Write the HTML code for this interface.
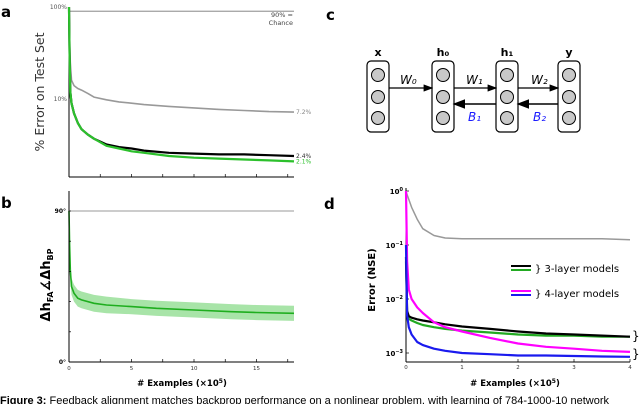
<!DOCTYPE html>
<html><head><meta charset="utf-8">
<style>
html,body{margin:0;padding:0;background:#fff;width:640px;height:404px;overflow:hidden}
svg{display:block;font-family:"DejaVu Sans","Liberation Sans",sans-serif}
</style></head>
<body>
<svg id="fig" width="640" height="404" viewBox="0 0 640 404" xmlns="http://www.w3.org/2000/svg">
<g font-weight="bold" font-size="15">
<text x="1" y="17">a</text>
<text x="1" y="208">b</text>
<text x="326" y="20">c</text>
<text x="324" y="209">d</text>
</g>
<g id="pa"></g>
<g id="pb"></g>
<g id="pc"></g>
<g id="pd"></g>
<text x="0" y="404" font-size="11" font-family="Liberation Sans,sans-serif"><tspan font-weight="bold">Figure 3:</tspan> Feedback alignment matches backprop performance on a nonlinear problem, with learning of 784-1000-10 network</text>
</svg>
<script>
// ---- Panel a data ----
const aX=[0,0.05,0.1,0.2,0.4,0.7,1,1.5,2,3,4,5,6,8,10,12,14,16,18];
const aGray=[100,40,25,16,14,13,12.5,11.5,10.5,9.8,9.3,9,8.7,8.3,8,7.7,7.5,7.3,7.2];
const aBlack=[100,30,12,9,7,5.5,4.7,4.1,3.7,3.2,3.0,2.9,2.75,2.6,2.55,2.5,2.5,2.45,2.4];
const aGreen=[100,30,12,9,7,5.5,4.7,4.1,3.7,3.1,2.9,2.7,2.6,2.4,2.3,2.25,2.2,2.15,2.1];
const aYTicks=["100%","10%"];
// ---- Panel b data ----
const bX=[0,0.05,0.1,0.2,0.4,0.7,1,2,3,5,7,10,13,15,18];
const bMean=[90,70,55,45,41,38,37,35,34,33,32,31,30,29.5,29];
const bSpread=[2,4,5,5,5,5,5,5,5,4.5,4.5,4.5,4.5,4.5,4.5];
const bXTicks=[0,5,10,15];
// ---- Panel d data ----
const dX=[0,0.02,0.05,0.1,0.2,0.3,0.5,0.7,1,1.5,2,2.5,3,3.5,4];
const dGray=[1,0.85,0.7,0.5,0.3,0.2,0.15,0.135,0.13,0.13,0.13,0.13,0.13,0.13,0.125];
const dBlack=[0.06,0.006,0.0048,0.0045,0.0042,0.004,0.0037,0.0034,0.0031,0.0028,0.0025,0.0023,0.0022,0.0021,0.002];
const dGreen=[0.05,0.005,0.0043,0.004,0.0036,0.0033,0.003,0.0028,0.0026,0.0024,0.0022,0.0021,0.0021,0.002,0.002];
const dMagenta=[1,0.05,0.015,0.01,0.007,0.0055,0.0037,0.003,0.0025,0.0019,0.0015,0.0013,0.0012,0.0011,0.00105];
const dBlue=[0.1,0.005,0.003,0.0022,0.0016,0.0014,0.0012,0.0011,0.001,0.00095,0.0009,0.0009,0.00088,0.00086,0.00085];
const dXTicks=[0,1,2,3,4];
const dYExp=[0,-1,-2,-3];

const NS="http://www.w3.org/2000/svg";
function mk(parent,tag,attrs,text){const e=document.createElementNS(NS,tag);for(const k in attrs)e.setAttribute(k,attrs[k]);if(text!==undefined)e.textContent=text;parent.appendChild(e);return e;}
function pts(xs,ys,fx,fy){return xs.map((x,i)=>fx(x).toFixed(1)+","+fy(ys[i]).toFixed(1)).join(" ");}

// ===== Panel a =====
(function(){
const g=document.getElementById('pa');
const x0=69,x1=294,top=7,bot=177;
const fx=v=>x0+(v/18)*(x1-x0);
const fy=v=>top+92*(2-Math.log10(v));
let e=mk(g,'line',{x1:x0,y1:top,x2:x0,y2:bot,stroke:'#000','stroke-width':1});

e=mk(g,'line',{x1:x0,y1:bot,x2:x1,y2:bot,stroke:'#000','stroke-width':1});

for(let t=0;t<=17.5;t+=2.5){e=mk(g,'line',{x1:fx(t),y1:bot,x2:fx(t),y2:bot-3,stroke:'#000','stroke-width':0.7});
}
[100,10].forEach((v,i)=>{e=mk(g,'text',{x:x0-2,y:fy(v)+2,'font-size':6,'text-anchor':'end',fill:'#555'},aYTicks[i]);
});
e=mk(g,'line',{x1:x0,y1:fy(90),x2:x1,y2:fy(90),stroke:'#777','stroke-width':0.8});

e=mk(g,'text',{x:x1-1,y:17,'font-size':6.5,'text-anchor':'end',fill:'#444'},'90% =');

e=mk(g,'text',{x:x1-1,y:25,'font-size':6.5,'text-anchor':'end',fill:'#444'},'Chance');

e=mk(g,'text',{transform:'translate(44,92) rotate(-90)','font-size':12.5,'text-anchor':'middle',fill:'#333'},'% Error on Test Set');

const ser=[[aGray,'#999','7.2%','a-series-gray'],[aBlack,'#000','2.4%','a-series-black'],[aGreen,'#2cc02c','2.1%','a-series-green']];
ser.forEach(s=>{e=mk(g,'polyline',{points:pts(aX,s[0],fx,fy),fill:'none',stroke:s[1],'stroke-width':s[1]=='#999'?1.6:2.2,'stroke-linejoin':'round'});

e=mk(g,'text',{x:x1+2,y:fy(s[0][s[0].length-1])+2,'font-size':6,fill:s[1]=='#2cc02c'?'#2cc02c':(s[1]=='#999'?'#888':'#333')},s[2]);
});
})();

// ===== Panel b =====
(function(){
const g=document.getElementById('pb');
const x0=69,x1=294,top=191,bot=362;
const fx=v=>x0+(v/18)*(x1-x0);
const fy=v=>bot-(v/90)*(bot-211);
let e;
const up=bX.map((x,i)=>fx(x).toFixed(1)+","+fy(bMean[i]+bSpread[i]).toFixed(1));
const dn=bX.map((x,i)=>fx(x).toFixed(1)+","+fy(bMean[i]-bSpread[i]).toFixed(1)).reverse();
e=mk(g,'polygon',{points:up.concat(dn).join(" "),fill:'#a8e4a8'});

e=mk(g,'polyline',{points:pts(bX,bMean,fx,fy),fill:'none',stroke:'#1fae1f','stroke-width':1.6});

e=mk(g,'line',{x1:x0,y1:top,x2:x0,y2:bot,stroke:'#000','stroke-width':1});

e=mk(g,'line',{x1:x0,y1:bot,x2:x1,y2:bot,stroke:'#000','stroke-width':1});

e=mk(g,'line',{x1:x0,y1:fy(90),x2:x1,y2:fy(90),stroke:'#777','stroke-width':0.8});

for(let t=0;t<=90;t+=18){e=mk(g,'line',{x1:x0,y1:fy(t),x2:x0+2,y2:fy(t),stroke:'#000','stroke-width':0.7});
}
for(let t=0;t<=17.5;t+=2.5){e=mk(g,'line',{x1:fx(t),y1:bot,x2:fx(t),y2:bot-3,stroke:'#000','stroke-width':0.7});
}
bXTicks.forEach(t=>{e=mk(g,'text',{x:fx(t),y:bot+8,'font-size':5.5,'text-anchor':'middle',fill:'#333'},String(t));
});
e=mk(g,'text',{x:x0-3,y:fy(90)+2,'font-size':6,'text-anchor':'end','font-weight':'bold'},'90°');

e=mk(g,'text',{x:x0-3,y:bot+2,'font-size':6,'text-anchor':'end','font-weight':'bold'},'0°');

const t=mk(g,'text',{transform:'translate(50,285) rotate(-90)','font-size':13,'text-anchor':'middle','font-weight':'bold'});

t.innerHTML='Δh<tspan font-size="8" dy="3">FA</tspan><tspan dy="-3">∡Δh</tspan><tspan font-size="8" dy="3">BP</tspan>';
e=mk(g,'text',{x:182,y:386,'font-size':8.5,'text-anchor':'middle','font-weight':'bold'},'');
e.innerHTML='# Examples (×10<tspan font-size="6" dy="-3">5</tspan><tspan dy="3">)</tspan>';

})();

// ===== Panel c =====
(function(){
const g=document.getElementById('pc');
const cols=[[378,'x'],[443,'h₀'],[507,'h₁'],[569,'y']];
let e;
cols.forEach((c,i)=>{
e=mk(g,'rect',{x:c[0]-11,y:61,width:22,height:71,rx:4,fill:'#fff',stroke:'#000','stroke-width':1.2});

[75,97,118].forEach(cy=>{e=mk(g,'circle',{cx:c[0],cy:cy,r:6.5,fill:'#c8c8c8',stroke:'#000','stroke-width':1});
});
e=mk(g,'text',{x:c[0],y:56,'font-size':11,'font-weight':'bold','text-anchor':'middle'},c[1]);

});
mk(g,'defs',{}).innerHTML='<marker id="ah" markerWidth="8" markerHeight="6" refX="7" refY="3" orient="auto"><path d="M0,0L8,3L0,6z" fill="#000"/></marker>';
const fw=[[389,432,'W₀',400],[454,496,'W₁',466],[518,558,'W₂',531]];
fw.forEach((a,i)=>{e=mk(g,'line',{x1:a[0],y1:88,x2:a[1],y2:88,stroke:'#000','stroke-width':1.2,'marker-end':'url(#ah)'});

e=mk(g,'text',{x:a[3],y:84,'font-size':12,'font-style':'italic'},a[2]);
});
const bw=[[496,454,'B₁',468],[558,518,'B₂',533]];
bw.forEach((a,i)=>{e=mk(g,'line',{x1:a[0],y1:104,x2:a[1],y2:104,stroke:'#000','stroke-width':1.6,'marker-end':'url(#ah)'});

e=mk(g,'text',{x:a[3],y:121,'font-size':12,'font-style':'italic',fill:'#1a1aff'},a[2]);
});
})();

// ===== Panel d =====
(function(){
const g=document.getElementById('pd');
const x0=406,x1=630,top=188,bot=362;
const fx=v=>x0+(v/4)*(x1-x0);
const fy=v=>191-54*Math.log10(v);
let e;
e=mk(g,'line',{x1:x0,y1:top,x2:x0,y2:bot,stroke:'#000','stroke-width':1});

e=mk(g,'line',{x1:x0,y1:bot,x2:x1,y2:bot,stroke:'#000','stroke-width':1});

dXTicks.forEach(t=>{e=mk(g,'line',{x1:fx(t),y1:bot,x2:fx(t),y2:bot-3,stroke:'#000','stroke-width':0.7});

e=mk(g,'text',{x:fx(t),y:bot+7,'font-size':5.5,'text-anchor':'middle',fill:'#333'},String(t));
});
dYExp.forEach(p=>{e=mk(g,'text',{x:x0-3,y:fy(Math.pow(10,p))+3,'font-size':7,'text-anchor':'end','font-weight':'bold'},'');
e.innerHTML='10<tspan font-size="5" dy="-3">'+(p==0?'0':'−'+(-p))+'</tspan>';

e=mk(g,'line',{x1:x0,y1:fy(Math.pow(10,p)),x2:x0+3,y2:fy(Math.pow(10,p)),stroke:'#000','stroke-width':0.7});
});
const ser=[[dGray,'#999','d-series-gray'],[dGreen,'#22aa22','d-series-green'],[dBlack,'#000','d-series-black'],[dMagenta,'#ff00ff','d-series-magenta'],[dBlue,'#1a1aee','d-series-blue']];
ser.forEach(s=>{e=mk(g,'polyline',{points:pts(dX,s[0],fx,fy),fill:'none',stroke:s[1],'stroke-width':s[1]=='#999'?1.5:2.2,'stroke-linejoin':'round'});
});
e=mk(g,'text',{transform:'translate(375,280) rotate(-90)','font-size':10,'text-anchor':'middle','font-weight':'bold'},'Error (NSE)');

e=mk(g,'text',{x:515,y:386,'font-size':8.5,'text-anchor':'middle','font-weight':'bold'},'');
e.innerHTML='# Examples (×10<tspan font-size="6" dy="-3">5</tspan><tspan dy="3">)</tspan>';

// legend
const lg=mk(g,'g',{});

[[266,'#000'],[270,'#22aa22'],[291,'#ff00ff'],[295,'#1a1aee']].forEach(l=>{e=mk(lg,'line',{x1:511,y1:l[0],x2:531,y2:l[0],stroke:l[1],'stroke-width':2});
});
e=mk(lg,'text',{x:535,y:272,'font-size':10},'} 3-layer models');

e=mk(lg,'text',{x:535,y:297,'font-size':10},'} 4-layer models');

e=mk(g,'text',{x:632,y:340,'font-size':12},'}');

e=mk(g,'text',{x:632,y:358,'font-size':12},'}');

})();
</script>
</body></html>
